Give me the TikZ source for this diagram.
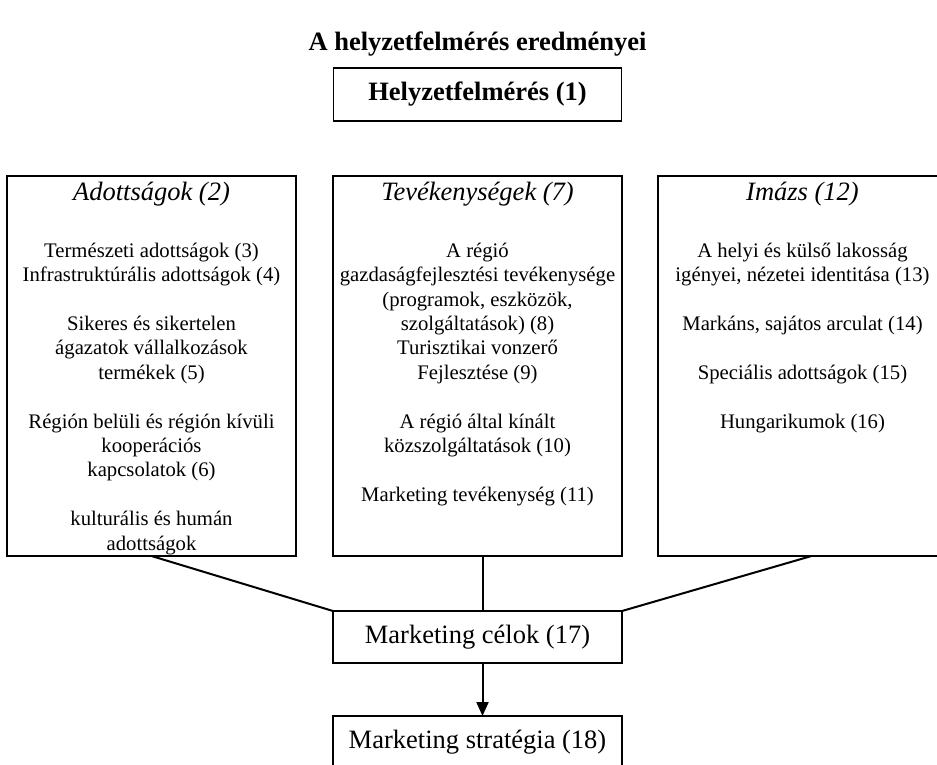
\documentclass[tikz,border=0pt]{standalone}
\usepackage{fontspec}
\setmainfont{Liberation Serif}
\usetikzlibrary{positioning}
\usetikzlibrary{arrows.meta}

\tikzset{
  panel/.style={draw, line width=1.2pt, minimum width=289pt, minimum height=380pt, inner sep=0pt, outer sep=0pt},
  paneltext/.style={anchor=north, align=center, inner sep=0pt, font=\fontsize{20.7pt}{24.4pt}\selectfont},
  goalbox/.style={draw, line width=1.2pt, minimum width=289pt, minimum height=52pt, inner sep=0pt, outer sep=0pt, font=\fontsize{26.5pt}{31pt}\selectfont},
  link/.style={line width=2pt},
}
\newcommand{\panelhead}[1]{\rule{0pt}{24pt}{\fontsize{26.5pt}{31pt}\selectfont\itshape #1}\\[32.6pt]}

\begin{document}
\begin{tikzpicture}[x=1pt, y=1pt]
\path[use as bounding box, clip] (0,0) rectangle (937,-764);
% three panels
\node[panel] (tev) at (477.5,-366) {};
\node[panel, left=37pt of tev] (adott) {};
\node[panel, right=36pt of tev] (imazs) {};

% title and top box
\node[anchor=base, font=\fontsize{26.5pt}{31pt}\selectfont\bfseries] (title) at (477.5,-50) {A helyzetfelmérés eredményei};
\node[goalbox, minimum width=288pt, minimum height=53pt, font=\fontsize{26.5pt}{31pt}\selectfont\bfseries, above=55pt of tev] (helyzet) {Helyzetfelmérés (1)};

% panel contents
\node[paneltext] (adott-t) at (adott.north) {\panelhead{Adottságok (2)}
Természeti adottságok (3)\\
Infrastruktúrális adottságok (4)\\[24.4pt]
Sikeres és sikertelen\\
ágazatok vállalkozások\\
termékek (5)\\[24.4pt]
Régión belüli és régión kívüli\\
kooperációs\\
kapcsolatok (6)\\[24.4pt]
kulturális és humán\\
adottságok};
\node[paneltext] (tev-t) at (tev.north) {\panelhead{Tevékenységek (7)}
A régió\\
gazdaságfejlesztési tevékenysége\\
(programok, eszközök,\\
szolgáltatások) (8)\\
Turisztikai vonzerő\\
Fejlesztése (9)\\[24.4pt]
A régió által kínált\\
közszolgáltatások (10)\\[24.4pt]
Marketing tevékenység (11)};
\node[paneltext] (imazs-t) at (imazs.north) {\panelhead{Imázs (12)}
A helyi és külső lakosság\\
igényei, nézetei identitása (13)\\[24.4pt]
Markáns, sajátos arculat (14)\\[24.4pt]
Speciális adottságok (15)\\[24.4pt]
Hungarikumok (16)};

% goals and strategy
\node[goalbox, below=55pt of tev] (celok) {Marketing célok (17)};
\node[goalbox, below=53pt of celok] (strat) {Marketing stratégia (18)};

\draw[link] (adott.south) -- (celok.north west);
\draw[link] ([xshift=5pt]tev.south) -- ([xshift=5pt]celok.north);
\draw[link] ([xshift=9pt]imazs.south) -- (celok.north east);
\draw[link, -{Triangle[width=12pt, length=14pt]}] ([xshift=5pt]celok.south) -- ([xshift=5pt]strat.north);
\end{tikzpicture}
\end{document}
